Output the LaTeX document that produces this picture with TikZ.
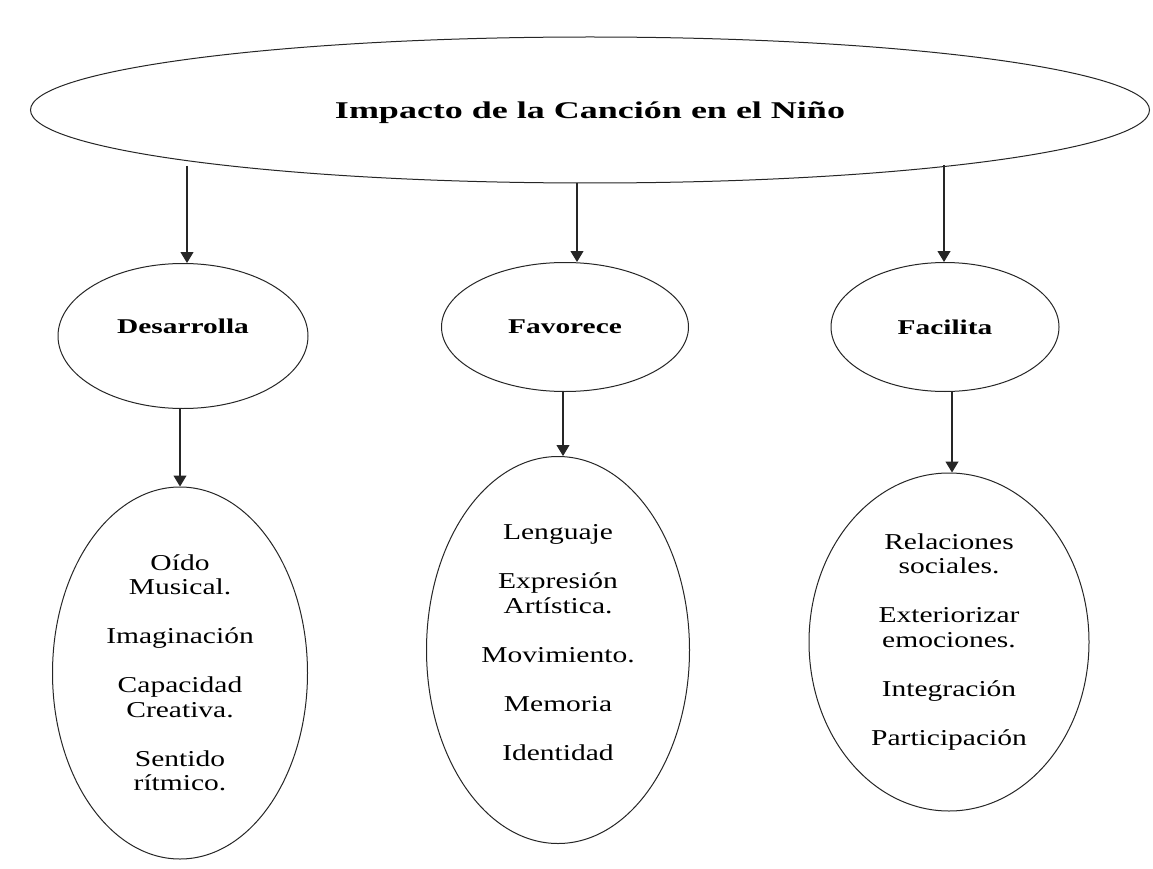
\documentclass[tikz,border=0pt]{standalone}
\usepackage{fontspec}
\setmainfont{Liberation Serif}[FakeStretch=1.3]
\newfontfamily\titlefam{Liberation Serif}[FakeStretch=1.5]
\newfontfamily\labfam{Liberation Serif}[FakeStretch=1.4]
\usetikzlibrary{arrows.meta,shapes.geometric}
\begin{document}
\begin{tikzpicture}[x=1pt,y=-1pt,
  oval/.style={draw=black!85, line width=1pt, ellipse, inner sep=0pt, align=center},
  arr/.style={draw=black!85, line width=1.1pt, -{Triangle[length=11pt,width=13pt]}},
  titletext/.style={font=\titlefam\bfseries\fontsize{24}{28}\selectfont},
  labtext/.style={font=\labfam\bfseries\fontsize{21}{25}\selectfont},
  bodytext/.style={font=\fontsize{22.7}{24.5}\selectfont}]
\useasboundingbox (0,0) rectangle (1153,869);
\fill[white] (0,0) rectangle (1153,869);
\node[oval, titletext, minimum width=1119pt, minimum height=146pt, text height=22pt, text depth=5pt] (top) at (590,110) {Impacto de la Canción en el Niño};
\node[oval, labtext, minimum width=250pt, minimum height=145pt, text height=15pt, text depth=21pt] (des) at (183,336) {Desarrolla};
\node[oval, labtext, minimum width=247pt, minimum height=129pt] (fav) at (565,327) {Favorece};
\node[oval, labtext, minimum width=228pt, minimum height=129pt] (fac) at (945,327) {Facilita};
\node[oval, bodytext, minimum width=255pt, minimum height=372pt] (desl) at (180,673)
  {Oído\\Musical.\\[24.5pt]Imaginación\\[24.5pt]Capacidad\\Creativa.\\[24.5pt]Sentido\\rítmico.};
\node[oval, bodytext, minimum width=263pt, minimum height=387pt, text depth=15pt] (favl) at (558,650)
  {Lenguaje\\[24.5pt]Expresión\\Artística.\\[24.5pt]Movimiento.\\[24.5pt]Memoria\\[24.5pt]Identidad};
\node[oval, bodytext, minimum width=280pt, minimum height=338pt] (facl) at (949,642)
  {Relaciones\\sociales.\\[24.5pt]Exteriorizar\\emociones.\\[24.5pt]Integración\\[24.5pt]Participación};
\coordinate (a1) at (187,166);
\coordinate (a2) at (577,183);
\coordinate (a3) at (944,165);
\coordinate (b1) at (180,0);
\coordinate (b2) at (563,0);
\coordinate (b3) at (952,0);
\draw[arr] (a1) -- (a1 |- des.north);
\draw[arr] (a2) -- (a2 |- fav.north);
\draw[arr] (a3) -- (a3 |- fac.north);
\draw[arr] (des.south -| b1) -- (desl.north -| b1);
\draw[arr] (fav.south -| b2) -- (favl.north -| b2);
\draw[arr] (fac.south -| b3) -- (facl.north -| b3);
\end{tikzpicture}
\end{document}
